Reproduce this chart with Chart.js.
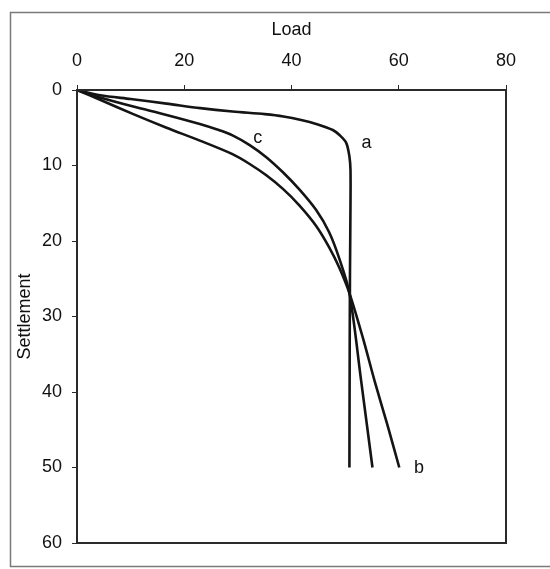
<!DOCTYPE html>
<html>
<head>
<meta charset="utf-8">
<script src="https://cdn.jsdelivr.net/npm/chart.js@4/dist/chart.umd.min.js"></script>
<style>
html,body{margin:0;padding:0;background:#fff;}
#wrap{width:550px;height:569px;position:relative;}
</style>
</head>
<body>
<div id="wrap"><canvas id="c" width="550" height="569"></canvas></div>
<script>
// Load vs settlement curves
const curveA = [[0,0],[4.3,0.7],[10,1.2],[16.7,1.8],[23,2.4],[29,2.85],[35,3.2],[38.5,3.5],[42,4.0],[44.6,4.5],[47.7,5.3],[49,6.0],[50.2,7.0],[50.8,8.8],[51,10.6],[51,15],[50.9,25],[50.85,35],[50.8,50]];
const curveB = [[0,0],[4.3,1.3],[10.5,3.2],[16.7,5.0],[22.9,6.7],[29,8.5],[32.2,9.8],[35.3,11.3],[38.4,13.1],[41.5,15.3],[44.6,18.0],[47,20.8],[48.9,23.5],[50.8,26.9],[53.3,32.8],[55.6,38.8],[57.9,44.4],[60.1,50]];
const curveC = [[0,0],[4.3,1.0],[10.5,2.2],[16.7,3.3],[22.9,4.5],[26,5.2],[29,6.0],[32.2,7.3],[35.3,8.9],[38.4,10.9],[41.5,13.2],[44.6,15.9],[47,18.8],[48.9,22.3],[50.8,26.9],[53,38.6],[55.1,50]];
const seriesNames = ['a','b','c'];
const labelPos = {a:[54,7.0], b:[63.8,50.1], c:[33.7,6.3]};
const xTicks = [0,20,40,60,80];
const yTicks = [0,10,20,30,40,50,60];
const xTitle = 'Load';
const yTitle = 'Settlement';

const FONT = '"Liberation Sans", Arial, sans-serif';
const toPts = arr => arr.map(p => ({x:p[0], y:p[1]}));

const framePlugin = {
  id:'frame',
  beforeDraw(chart){
    const ctx = chart.ctx;
    ctx.save();
    ctx.fillStyle = '#fff';
    ctx.fillRect(0,0,chart.width,chart.height);
    ctx.strokeStyle = '#7a7a7a';
    ctx.lineWidth = 1.5;
    ctx.strokeRect(10.5, 12.5, 600, 554);
    ctx.restore();
  },
  afterDraw(chart){
    const {ctx, chartArea:a, scales} = chart;
    ctx.save();
    ctx.strokeStyle = '#2a2a2a';
    ctx.lineWidth = 2;
    ctx.strokeRect(a.left, a.top, a.right - a.left, a.bottom - a.top);
    ctx.fillStyle = '#111';
    ctx.font = '18px ' + FONT;
    ctx.textAlign = 'center';
    ctx.textBaseline = 'middle';
    seriesNames.forEach(n => {
      const p = labelPos[n];
      ctx.fillText(n, scales.x.getPixelForValue(p[0]), scales.y.getPixelForValue(p[1]));
    });
    ctx.restore();
  }
};

const ds = (data) => ({
  data: toPts(data),
  borderColor:'#141414',
  borderWidth:2.6,
  pointRadius:0,
  tension:0.3,
  fill:false,
  showLine:true
});

new Chart(document.getElementById('c'), {
  type:'scatter',
  data:{ datasets:[ds(curveA), ds(curveB), ds(curveC)] },
  options:{
    responsive:false,
    animation:false,
    events:[],
    layout:{padding:{left:0, top:0, right:44, bottom:26}},
    plugins:{legend:{display:false}, tooltip:{enabled:false}},
    scales:{
      x:{
        type:'linear', position:'top', min:0, max:80,
        afterBuildTicks(s){ s.ticks = xTicks.map(v => ({value:v})); },
        afterFit(s){ s.height = 90; },
        grid:{drawOnChartArea:false, drawTicks:true, tickLength:5, color:'#2a2a2a', lineWidth:1},
        border:{display:true, color:'#2a2a2a', width:2},
        ticks:{color:'#111', font:{family:FONT, size:18}, padding:13, maxRotation:0},
        title:{display:true, text:xTitle, color:'#111', font:{family:FONT, size:18}, padding:{top:19, bottom:0}}
      },
      y:{
        type:'linear', reverse:true, min:0, max:60,
        afterBuildTicks(s){ s.ticks = yTicks.map(v => ({value:v})); },
        afterFit(s){ s.width = 77; },
        grid:{drawOnChartArea:false, drawTicks:true, tickLength:5, color:'#2a2a2a', lineWidth:1},
        border:{display:true, color:'#2a2a2a', width:2},
        ticks:{color:'#111', font:{family:FONT, size:18}, padding:10},
        title:{display:true, text:yTitle, color:'#111', font:{family:FONT, size:18}, padding:{top:14, bottom:0}}
      }
    }
  },
  plugins:[framePlugin]
});
</script>
</body>
</html>
